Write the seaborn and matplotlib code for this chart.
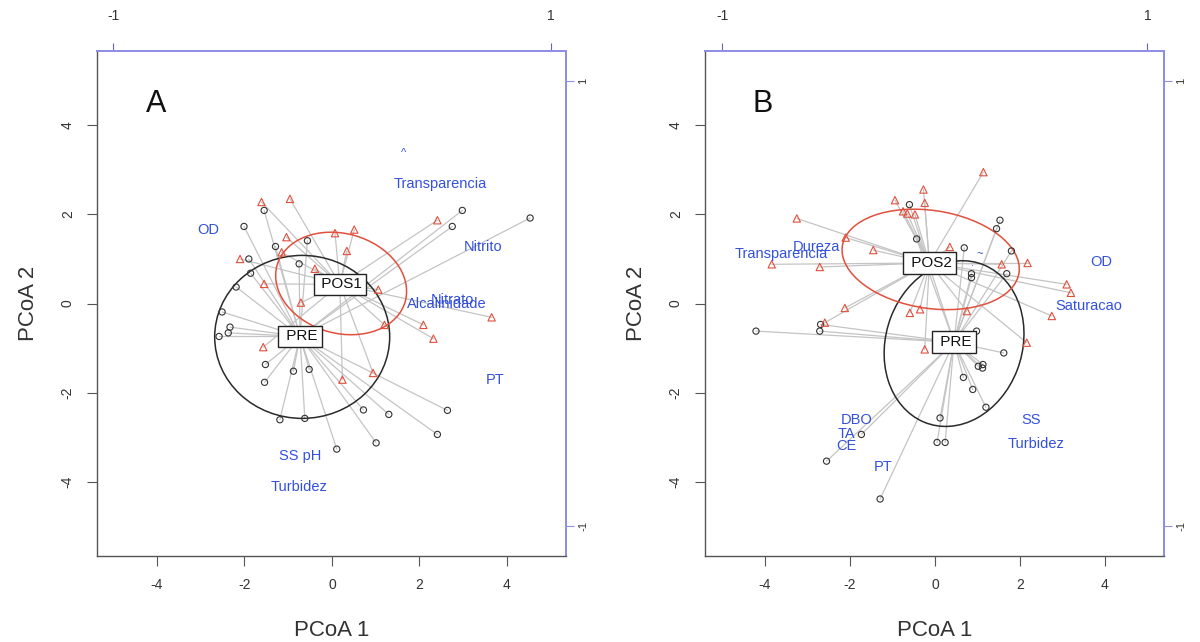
import matplotlib
matplotlib.use("Agg")
import matplotlib.pyplot as plt
from matplotlib.patches import Ellipse
import seaborn as sns
import pandas as pd

# ---------------- Panel A: PRE vs POS1 ----------------
a_pre_x = [2.98, 2.75, 4.53, -1.55, -2.01, -0.56, -1.29, -1.90, -0.75, -1.86, -2.19,
           -2.51, -2.33, -2.37, -2.58, -1.52, -0.88, -0.52, -1.54, -1.19, -0.62, 0.72,
           1.30, 2.64, 2.41, 1.01, 0.11]
a_pre_y = [2.09, 1.73, 1.92, 2.09, 1.73, 1.41, 1.28, 1.00, 0.89, 0.68, 0.37,
           -0.19, -0.53, -0.66, -0.74, -1.37, -1.52, -1.48, -1.77, -2.61, -2.58, -2.39,
           -2.49, -2.40, -2.94, -3.13, -3.27]
a_pos_x = [-1.61, -0.96, 2.41, -1.04, 0.07, 0.51, 0.34, -1.15, -2.10, -1.55, -0.39,
           -0.71, 1.06, 1.20, 2.09, 2.32, 3.65, -1.57, 0.24, 0.94]
a_pos_y = [2.28, 2.35, 1.87, 1.49, 1.58, 1.66, 1.18, 1.15, 1.00, 0.44, 0.78,
           0.02, 0.31, -0.48, -0.48, -0.79, -0.31, -0.98, -1.71, -1.56]
a_groups = ["PRE", "POS1"]
a_cent_x = [-0.73, 0.18]
a_cent_y = [-0.74, 0.43]
# ellipse: centre x, centre y, semi-axis a, semi-axis b, angle (deg)
a_ell_pre = [-0.68, -0.75, 2.0, 1.83, 0.0]
a_ell_pos = [0.21, 0.45, 1.52, 1.12, -15.0]
a_env = ["Transparencia", "OD", "Nitrito", "Alcalinidade", "Nitrato", "PT",
         "SS pH", "Turbidez", "^"]
a_env_x = [2.47, -2.83, 3.46, 2.62, 2.75, 3.73, -0.73, -0.75, 1.63]
a_env_y = [2.69, 1.64, 1.27, -0.02, 0.07, -1.72, -3.42, -4.13, 3.38]

# ---------------- Panel B: PRE vs POS2 ----------------
b_pre_x = [-0.60, -0.43, 0.69, 1.53, 1.45, 1.80, 1.69, 0.86, 0.86, -4.21, -2.71,
           -2.69, 0.98, 1.62, 1.13, 1.12, 1.02, 0.67, 0.89, 1.20, 0.12, 0.05,
           0.24, -1.73, -2.55, -1.29]
b_pre_y = [2.22, 1.45, 1.25, 1.87, 1.68, 1.18, 0.67, 0.67, 0.58, -0.62, -0.62,
           -0.47, -0.62, -1.11, -1.37, -1.45, -1.41, -1.66, -1.93, -2.33, -2.57, -3.12,
           -3.12, -2.94, -3.54, -4.39]
b_pos_x = [1.14, -0.27, -0.24, -0.94, -0.75, -0.65, -0.47, -3.25, -2.10, -1.45, 0.35,
           -3.84, -2.71, 2.18, 1.57, 3.10, 3.20, 2.75, -2.12, -2.59, -0.59, -0.35,
           0.75, 2.16, -0.24]
b_pos_y = [2.95, 2.56, 2.26, 2.32, 2.07, 2.02, 2.00, 1.91, 1.48, 1.20, 1.27,
           0.88, 0.82, 0.91, 0.88, 0.43, 0.24, -0.28, -0.10, -0.43, -0.21, -0.13,
           -0.17, -0.88, -1.03]
b_groups = ["PRE", "POS2"]
b_cent_x = [0.45, -0.13]
b_cent_y = [-0.87, 0.91]
b_ell_pre = [0.45, -0.90, 1.90, 1.60, 68.0]
b_ell_pos = [-0.10, 0.99, 2.10, 1.10, -8.0]
b_env = ["Dureza", "Transparencia", "OD", "Saturacao", "DBO", "TA", "CE", "PT",
         "SS", "Turbidez", "~", "."]
b_env_x = [-2.78, -3.61, 3.92, 3.61, -1.84, -2.08, -2.08, -1.22, 2.27, 2.38, 1.06, 0.89]
b_env_y = [1.27, 1.12, 0.94, -0.06, -2.61, -2.94, -3.21, -3.67, -2.62, -3.16, 1.10, 0.90]

x_ticks = [-4, -2, 0, 2, 4]
y_ticks = [-4, -2, 0, 2, 4]
arrow_ticks = [-1, 1]
arrow_mult = 5.0

BLACK = "#333333"
RED = "#e0503c"
BLUE_TXT = "#3350dd"
BLUE_AX = "#8f8fe3"
SPIDER = "#c4c4c4"

sns.set_theme(style="white")
plt.rcParams["font.family"] = ["Liberation Sans", "DejaVu Sans"]

fig = plt.figure(figsize=(12, 6.42), dpi=100)
ax_a = fig.add_axes([97 / 1200, 1 - 556 / 642, 469 / 1200, 505 / 642])
ax_b = fig.add_axes([705 / 1200, 1 - 556 / 642, 459 / 1200, 505 / 642])


def draw_panel(ax, letter, pre_x, pre_y, pos_x, pos_y, groups, cx, cy,
               ell_pre, ell_pos, env, env_x, env_y, xlim):
    # spider segments from every site to its group centroid
    for xs, ys, gi in [(pre_x, pre_y, 0), (pos_x, pos_y, 1)]:
        for x, y in zip(xs, ys):
            ax.plot([x, cx[gi]], [y, cy[gi]], color=SPIDER, lw=0.9, zorder=1)

    # dispersion ellipses
    for e, col in [(ell_pre, "#2a2a2a"), (ell_pos, RED)]:
        ax.add_patch(Ellipse((e[0], e[1]), 2 * e[2], 2 * e[3], angle=e[4],
                             fill=False, ec=col, lw=1.1, zorder=2))

    pre = pd.DataFrame({"x": pre_x, "y": pre_y})
    pos = pd.DataFrame({"x": pos_x, "y": pos_y})
    sns.scatterplot(data=pre, x="x", y="y", ax=ax, marker="o", s=20,
                    facecolor="none", edgecolor=BLACK, linewidth=0.8, zorder=3)
    sns.scatterplot(data=pos, x="x", y="y", ax=ax, marker="^", s=28,
                    facecolor="none", edgecolor=RED, linewidth=0.8, zorder=3)

    # environmental variable labels
    for lab, x, y in zip(env, env_x, env_y):
        fs = 10.5 if len(lab) > 1 else 8
        ax.text(x, y, lab, color=BLUE_TXT, fontsize=fs, ha="center",
                va="center", zorder=4)

    # group centroid labels
    for g, x, y in zip(groups, cx, cy):
        ax.text(x, y, " " + g, fontsize=11, color="#111111", ha="center",
                va="center", zorder=5,
                bbox=dict(boxstyle="square,pad=0.25", fc="white", ec="#222222",
                          lw=1.0))

    ax.set_xlim(*xlim)
    ax.set_ylim(-5.67, 5.67)
    ax.set_xticks(x_ticks)
    ax.set_yticks(y_ticks)
    ax.set_xticklabels([str(t) for t in x_ticks])
    ax.set_yticklabels([str(t) for t in y_ticks], rotation=90, va="center")
    ax.tick_params(axis="both", which="major", direction="out", length=7,
                   width=0.8, color="#555555", labelsize=10, labelcolor=BLACK,
                   bottom=True, left=True, pad=9)
    ax.set_xlabel("PCoA 1", fontsize=16, color=BLACK, labelpad=20)
    ax.set_ylabel("PCoA 2", fontsize=16, color=BLACK, labelpad=16)
    for side in ["left", "bottom"]:
        ax.spines[side].set_color("#555555")
        ax.spines[side].set_linewidth(1.0)
    for side in ["top", "right"]:
        ax.spines[side].set_color(BLUE_AX)
        ax.spines[side].set_linewidth(1.4)

    # biplot arrow scale axes
    top = ax.secondary_xaxis("top", functions=(lambda v: v / arrow_mult,
                                               lambda v: v * arrow_mult))
    top.set_xticks(arrow_ticks)
    top.set_xticklabels([str(t) for t in arrow_ticks])
    top.tick_params(direction="out", length=6, width=0.8, color="#6666aa",
                    labelsize=10, labelcolor=BLACK, pad=14)
    top.spines["top"].set_color(BLUE_AX)
    top.spines["top"].set_linewidth(1.4)
    right = ax.secondary_yaxis("right", functions=(lambda v: v / arrow_mult,
                                                   lambda v: v * arrow_mult))
    right.set_yticks(arrow_ticks)
    right.set_yticklabels([str(t) for t in arrow_ticks], rotation=90,
                          va="center")
    right.tick_params(direction="out", length=6, width=0.8, color=BLUE_AX,
                      labelsize=8, labelcolor=BLACK, pad=3)
    right.spines["right"].set_color(BLUE_AX)
    right.spines["right"].set_linewidth(1.4)

    ax.text(0.125, 0.895, letter, transform=ax.transAxes, fontsize=22,
            color="#111111", ha="center", va="center")


draw_panel(ax_a, "A", a_pre_x, a_pre_y, a_pos_x, a_pos_y, a_groups,
           a_cent_x, a_cent_y, a_ell_pre, a_ell_pos, a_env, a_env_x, a_env_y,
           (-5.37, 5.35))
draw_panel(ax_b, "B", b_pre_x, b_pre_y, b_pos_x, b_pos_y, b_groups,
           b_cent_x, b_cent_y, b_ell_pre, b_ell_pos, b_env, b_env_x, b_env_y,
           (-5.41, 5.39))

fig.savefig("out.png", dpi=100)
